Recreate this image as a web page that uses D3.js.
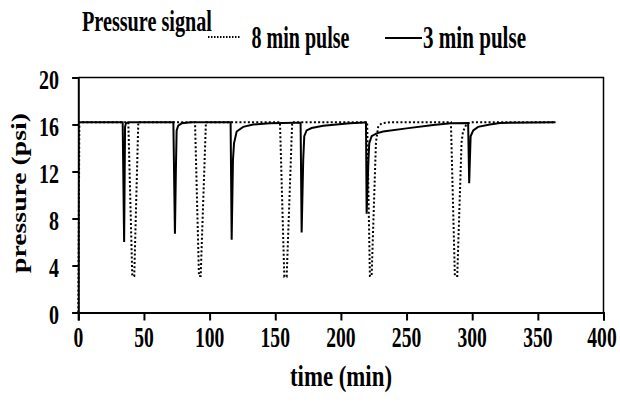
<!DOCTYPE html>
<html><head><meta charset="utf-8">
<script src="https://cdn.jsdelivr.net/npm/d3@7"></script>
<style>
html,body{margin:0;padding:0;background:#fff;}
text{font-family:"Liberation Serif","Times New Roman",serif;font-weight:bold;fill:#000;}
</style></head>
<body><svg id="c" width="620" height="403"></svg>
<script>
// ---- data ----
const xTicks = [0, 50, 100, 150, 200, 250, 300, 350, 400];
const yTicks = [0, 4, 8, 12, 16, 20];
const seriesNames = ["8 min pulse", "3 min pulse"];

const eightMinTime = [0, 0.8, 38.1, 41.1, 42.6, 45.7, 88.9, 91.9, 93.2, 97.2, 153.6, 156.9, 158.7, 162.9,
  220, 222.1, 223.4, 226.7, 228.4, 231, 237.3, 283.8, 286.8, 288.6, 291.9, 293.0, 295.5, 298.5, 363.5];
const eightMinPressure = [0, 16.2, 16.2, 3.1, 3.1, 16.2, 16.2, 3.1, 3.1, 16.2, 16.2, 3.05, 3.05, 16.2,
  16.2, 3.1, 3.1, 14.5, 15.8, 16.1, 16.2, 16.2, 3.1, 3.1, 14.5, 15.4, 16.0, 16.2, 16.2];

const threeMinTime = [0, 33.8, 34.9, 35.6, 36.3, 38,
  72.4, 73.6, 74.3, 74.9, 76.1, 78.7, 86,
  116.0, 116.8, 117.8, 118.6, 120.6, 125.6, 133.2, 146, 165,
  169.3, 170.1, 171.3, 172.1, 173.9, 177.7, 186.5, 206.9, 218.3,
  219.1, 219.6, 221, 221.6, 223.4, 227.2, 232.2, 250, 270.3, 283.8, 296.9,
  297.7, 298.8, 300.8, 304.5, 313.5, 321.1, 363.5];
const threeMinPressure = [16.2, 16.2, 6.0, 15.8, 16.1, 16.2,
  16.2, 6.7, 12, 15.5, 15.9, 16.1, 16.2,
  16.2, 6.2, 13, 14.4, 15.4, 15.8, 16.0, 16.1, 16.15,
  16.15, 6.8, 13, 15.0, 15.5, 15.7, 15.9, 16.1, 16.17,
  16.17, 8.4, 13, 14.4, 15.0, 15.25, 15.4, 15.67, 15.96, 16.1, 16.12,
  11.0, 15.0, 15.5, 15.8, 16.0, 16.13, 16.2];

// ---- chart ----
const svg = d3.select("#c");
const x = d3.scaleLinear().domain([0, 400]).range([78.3, 603.5]);
const y = d3.scaleLinear().domain([0, 20]).range([312.5, 77.5]);

// condensed text helper: place text at (px,py) squeezed horizontally to width w
function addText(parent, str, px, py, size, w, anchor, rot) {
  const t = parent.append("text").attr("font-size", size)
    .attr("text-anchor", anchor || "start").text(str);
  const nat = t.node().getComputedTextLength();
  const sx = w / nat;
  t.attr("transform", `translate(${px},${py})${rot ? " rotate(" + rot + ")" : ""} scale(${sx},1)`);
  return t;
}

// plot border (top/right)
svg.append("path")
  .attr("d", `M${x(0)},${y(20)}H${x(400)}V${y(0)}`)
  .attr("fill", "none").attr("stroke", "#000").attr("stroke-width", 1.5);

const line = d3.line().x(d => x(d[0])).y(d => y(d[1]));
const eight = eightMinTime.map((t, i) => [t, eightMinPressure[i]]);
const three = threeMinTime.map((t, i) => [t, threeMinPressure[i]]);

svg.append("path").datum(eight).attr("d", line)
  .attr("fill", "none").attr("stroke", "#000").attr("stroke-width", 2)
  .attr("stroke-dasharray", "2,2.2");
svg.append("path").datum(three).attr("d", line)
  .attr("fill", "none").attr("stroke", "#000").attr("stroke-width", 2);

// axes
const xAxis = svg.append("g").attr("transform", `translate(0,${y(0)})`)
  .call(d3.axisBottom(x).tickValues(xTicks).tickSize(8).tickFormat(""));
const yAxis = svg.append("g").attr("transform", `translate(${x(0)},0)`)
  .call(d3.axisLeft(y).tickValues(yTicks).tickSize(6).tickFormat(""));
[xAxis, yAxis].forEach(g => {
  g.selectAll("path,line").attr("stroke", "#000").attr("stroke-width", 2);
});

// tick labels
const xl = svg.append("g");
xTicks.forEach(d => addText(xl, String(d), x(d) - (d === 400 ? 1.5 : 0), 347, 30, String(d).length * 9.8, "middle"));
const yl = svg.append("g");
yTicks.forEach(d => addText(yl, String(d), 59, y(d) + 11, 28, String(d).length * 10, "end"));

// axis titles
addText(svg, "time (min)", 341, 386, 30, 102, "middle");
addText(svg, "pressure (psi)", 26, 193, 21, 160, "middle", -90);

// legend
addText(svg, "Pressure signal", 82, 31, 29, 130, "start");
svg.append("line").attr("x1", 208).attr("x2", 240).attr("y1", 37).attr("y2", 37)
  .attr("stroke", "#000").attr("stroke-width", 2).attr("stroke-dasharray", "1.5,1.5");
addText(svg, seriesNames[0], 251.5, 48, 31, 98, "start");
svg.append("line").attr("x1", 385).attr("x2", 422).attr("y1", 38).attr("y2", 38)
  .attr("stroke", "#000").attr("stroke-width", 2);
addText(svg, seriesNames[1], 423, 48, 31, 103, "start");
</script></body></html>
